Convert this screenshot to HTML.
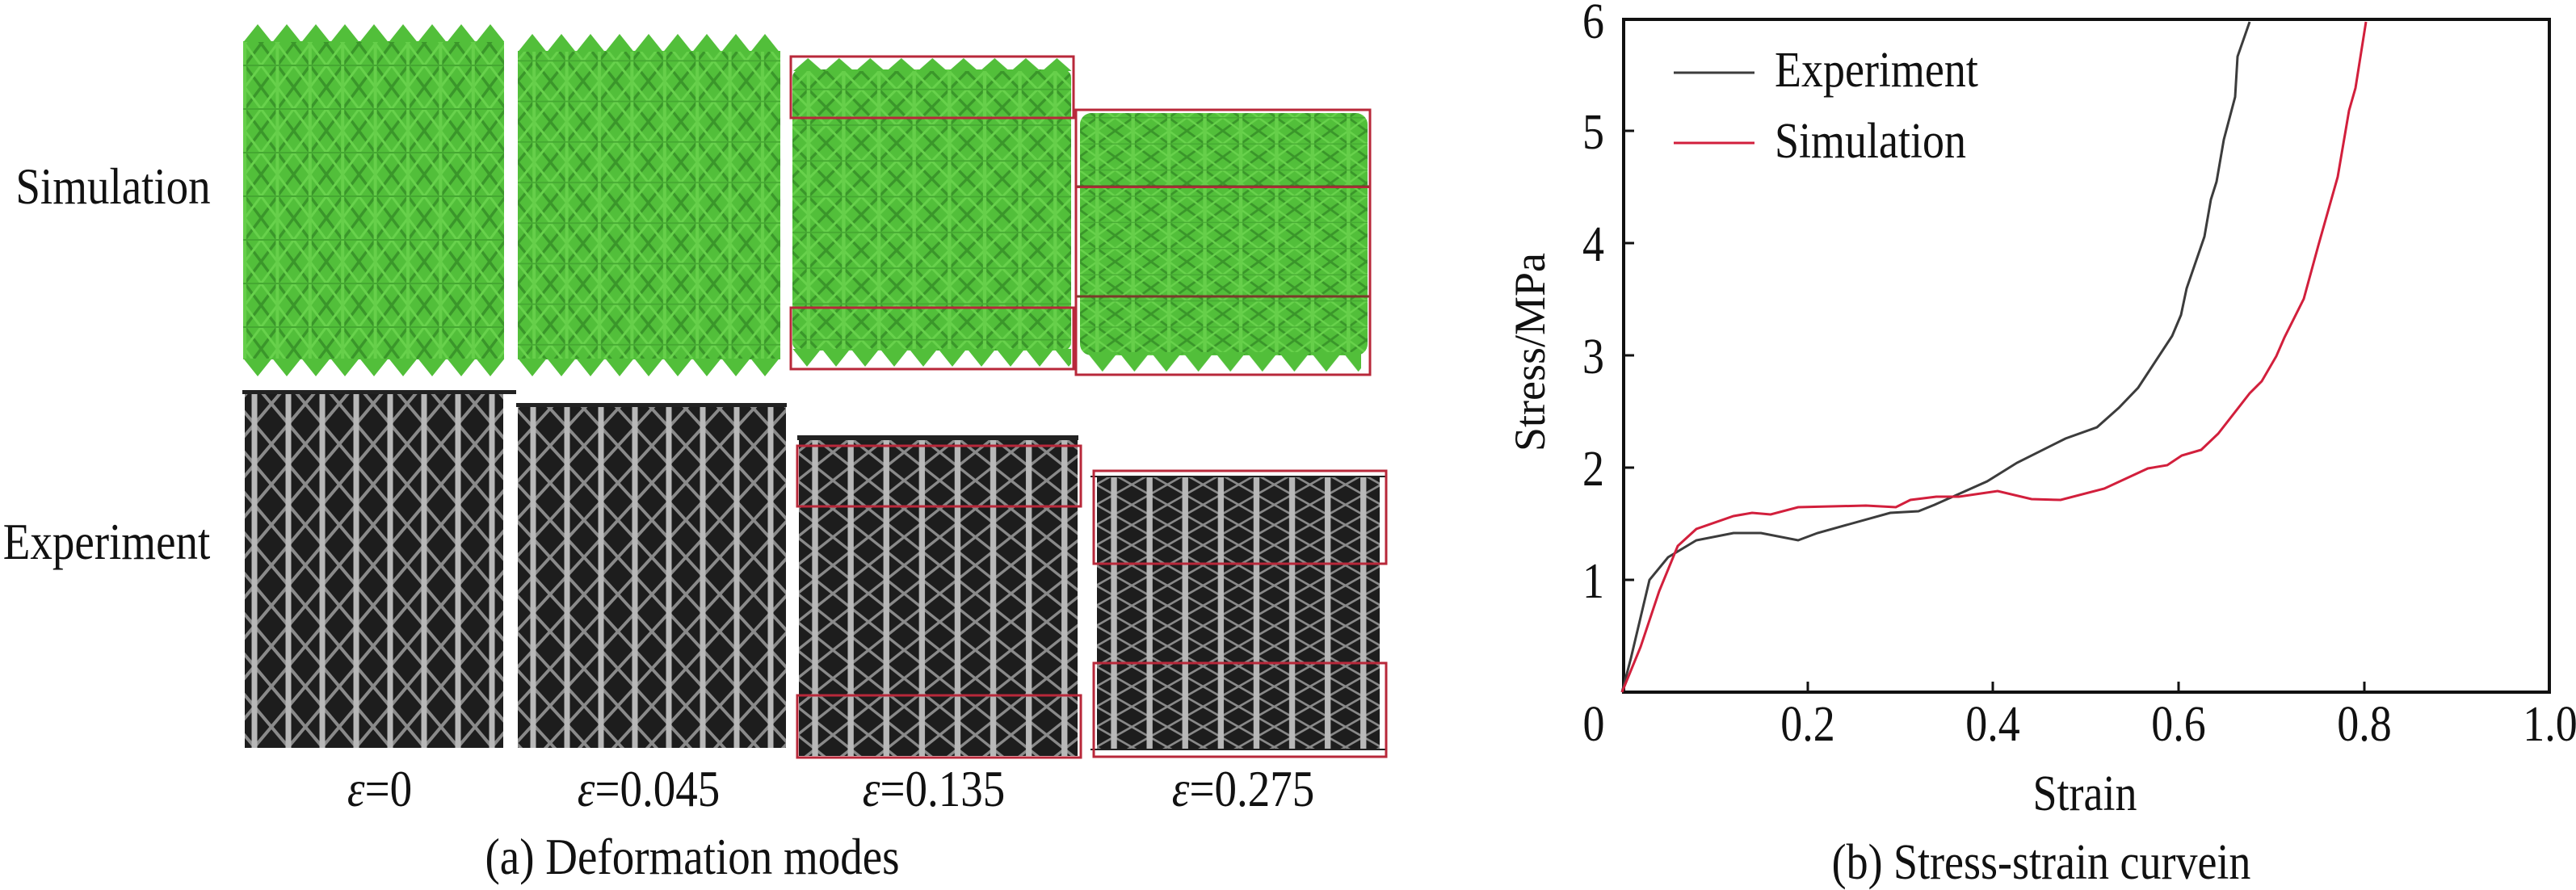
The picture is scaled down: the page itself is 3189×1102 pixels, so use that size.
<!DOCTYPE html>
<html><head><meta charset="utf-8"><style>
html,body{margin:0;padding:0;background:#fff;}
svg{display:block;}
text{font-family:"Liberation Serif",serif;fill:#111;}
</style></head><body>
<svg width="3189" height="1102" viewBox="0 0 3189 1102" xmlns="http://www.w3.org/2000/svg">
<defs>
<pattern id="g1" width="40.4" height="54" patternUnits="userSpaceOnUse">
<rect width="40.4" height="54" fill="#52bf3a"/>
<path d="M0 0L40.4 54M40.4 0L0 54" stroke="#3a962a" stroke-width="3.5"/>
<path d="M0 27L20.2 0L40.4 27L20.2 54Z" fill="none" stroke="#68d24c" stroke-width="3"/>
<line x1="20.2" y1="0" x2="20.2" y2="54" stroke="#66cf4a" stroke-width="4"/>
<line x1="0" y1="27" x2="40.4" y2="27" stroke="#45a832" stroke-width="2"/>
</pattern>
<pattern id="g2" href="#g1" patternTransform="translate(641,0) scale(1.0,0.93)"/>
<pattern id="g3" href="#g1" patternTransform="translate(979,0) scale(1.08,0.82)"/>
<pattern id="g4" href="#g1" patternTransform="translate(1336,0) scale(1.1,0.6)"/>
<pattern id="tu" width="36" height="22" patternUnits="userSpaceOnUse">
<polygon points="0,22.5 18,0 36,22.5" fill="#52bf3a"/>
</pattern>
<pattern id="td" width="36" height="22" patternUnits="userSpaceOnUse">
<polygon points="0,-0.5 18,22 36,-0.5" fill="#52bf3a"/>
</pattern>
<pattern id="tu1" href="#tu" patternTransform="translate(301,30)"/>
<pattern id="td1" href="#td" patternTransform="translate(301,444)"/>
<pattern id="tu2" href="#tu" patternTransform="translate(641,42)"/>
<pattern id="td2" href="#td" patternTransform="translate(641,444)"/>
<pattern id="tu3" href="#tu" patternTransform="translate(981,72) scale(1.07,0.75)"/>
<pattern id="td3" href="#td" patternTransform="translate(981,432)"/>
<pattern id="td4" href="#td" patternTransform="translate(1345,436) scale(1.1,1.1)"/>
<pattern id="e1" width="42" height="50" patternUnits="userSpaceOnUse">
<rect width="42" height="50" fill="#1d1d1d"/>
<path d="M0 0L42 50M42 0L0 50" stroke="#8a8a8a" stroke-width="4"/>
<line x1="21" y1="0" x2="21" y2="50" stroke="#b8b8b8" stroke-width="7"/>
</pattern>
<pattern id="e2" href="#e1" patternTransform="translate(639,0) scale(1,0.92)"/>
<pattern id="e3" href="#e1" patternTransform="translate(987,0) scale(1.05,0.7)"/>
<pattern id="e4" href="#e1" patternTransform="translate(1357,0) scale(1.05,0.5)"/>
</defs>

<g transform="translate(140,252) scale(1,1.15)"><text x="0" y="0" font-size="55" text-anchor="middle">Simulation</text></g>
<g transform="translate(132,692) scale(1,1.15)"><text x="0" y="0" font-size="55" text-anchor="middle">Experiment</text></g>

<rect x="301" y="51" width="323" height="394" fill="url(#g1)"/>
<rect x="301" y="30" width="323" height="22" fill="url(#tu1)"/>
<rect x="301" y="444" width="323" height="22" fill="url(#td1)"/>

<rect x="641" y="63" width="325" height="382" fill="url(#g2)"/>
<rect x="641" y="42" width="325" height="22" fill="url(#tu2)"/>
<rect x="641" y="444" width="325" height="22" fill="url(#td2)"/>

<rect x="981" y="86" width="345" height="348" rx="10" fill="url(#g3)"/>
<rect x="981" y="72" width="345" height="16" fill="url(#tu3)"/>
<rect x="981" y="432" width="345" height="22" fill="url(#td3)"/>
<rect x="979" y="70" width="350" height="76" fill="none" stroke="#b8283a" stroke-width="3"/>
<rect x="979" y="381" width="350" height="76" fill="none" stroke="#b8283a" stroke-width="3"/>

<rect x="1337" y="140" width="356" height="300" rx="14" fill="url(#g4)"/>
<rect x="1345" y="436" width="340" height="24" fill="url(#td4)"/>
<line x1="1332" y1="231" x2="1696" y2="231" stroke="#7a3a2a" stroke-width="3"/>
<line x1="1332" y1="367" x2="1696" y2="367" stroke="#7a3a2a" stroke-width="3"/>
<rect x="1332" y="136" width="364" height="328" fill="none" stroke="#b8283a" stroke-width="3"/>
<line x1="1332" y1="232" x2="1696" y2="232" stroke="#b8283a" stroke-width="2"/>

<rect x="303" y="487" width="320" height="439" fill="url(#e1)"/>
<rect x="300" y="483" width="339" height="5" fill="#222"/>
<rect x="641" y="503" width="332" height="423" fill="url(#e2)"/>
<rect x="639" y="499" width="335" height="5" fill="#222"/>
<rect x="989" y="543" width="345" height="393" fill="url(#e3)"/>
<rect x="987" y="539" width="348" height="6" fill="#222"/>
<rect x="987" y="552" width="351" height="75" fill="none" stroke="#b8283a" stroke-width="3"/>
<rect x="987" y="861" width="351" height="77" fill="none" stroke="#b8283a" stroke-width="3"/>
<rect x="1358" y="591" width="350" height="337" fill="url(#e4)"/>
<line x1="1350" y1="590" x2="1716" y2="590" stroke="#222" stroke-width="2"/>
<line x1="1350" y1="928" x2="1716" y2="928" stroke="#222" stroke-width="2"/>
<rect x="1354" y="583" width="362" height="115" fill="none" stroke="#b8283a" stroke-width="3"/>
<rect x="1354" y="821" width="362" height="116" fill="none" stroke="#b8283a" stroke-width="3"/>

<g transform="translate(470,998) scale(1,1.15)"><text font-size="55" text-anchor="middle"><tspan font-style="italic">ε</tspan>=0</text></g>
<g transform="translate(803,998) scale(1,1.15)"><text font-size="55" text-anchor="middle"><tspan font-style="italic">ε</tspan>=0.045</text></g>
<g transform="translate(1156,998) scale(1,1.15)"><text font-size="55" text-anchor="middle"><tspan font-style="italic">ε</tspan>=0.135</text></g>
<g transform="translate(1539,998) scale(1,1.15)"><text font-size="55" text-anchor="middle"><tspan font-style="italic">ε</tspan>=0.275</text></g>
<g transform="translate(857,1082) scale(1,1.15)"><text font-size="55" text-anchor="middle">(a) Deformation modes</text></g>

<rect x="2010" y="24" width="1146" height="833" fill="none" stroke="#111" stroke-width="4"/>
<g stroke="#111" stroke-width="3">
<line x1="2010" y1="718" x2="2023" y2="718"/>
<line x1="2010" y1="579" x2="2023" y2="579"/>
<line x1="2010" y1="440" x2="2023" y2="440"/>
<line x1="2010" y1="301" x2="2023" y2="301"/>
<line x1="2010" y1="162" x2="2023" y2="162"/>
<line x1="2238" y1="857" x2="2238" y2="844"/>
<line x1="2467" y1="857" x2="2467" y2="844"/>
<line x1="2697" y1="857" x2="2697" y2="844"/>
<line x1="2927" y1="857" x2="2927" y2="844"/>
</g>
<g font-size="54">
<g transform="translate(1986,740) scale(1,1.15)"><text text-anchor="end">1</text></g>
<g transform="translate(1986,601) scale(1,1.15)"><text text-anchor="end">2</text></g>
<g transform="translate(1986,462) scale(1,1.15)"><text text-anchor="end">3</text></g>
<g transform="translate(1986,323) scale(1,1.15)"><text text-anchor="end">4</text></g>
<g transform="translate(1986,184) scale(1,1.15)"><text text-anchor="end">5</text></g>
<g transform="translate(1986,47) scale(1,1.15)"><text text-anchor="end">6</text></g>
<g transform="translate(1973,917) scale(1,1.15)"><text text-anchor="middle">0</text></g>
<g transform="translate(2238,917) scale(1,1.15)"><text text-anchor="middle">0.2</text></g>
<g transform="translate(2467,917) scale(1,1.15)"><text text-anchor="middle">0.4</text></g>
<g transform="translate(2697,917) scale(1,1.15)"><text text-anchor="middle">0.6</text></g>
<g transform="translate(2927,917) scale(1,1.15)"><text text-anchor="middle">0.8</text></g>
<g transform="translate(3157,917) scale(1,1.15)"><text text-anchor="middle">1.0</text></g>
<g transform="translate(2581,1003) scale(1,1.15)"><text text-anchor="middle">Strain</text></g>
<g transform="translate(2527,1088) scale(1,1.15)"><text text-anchor="middle">(b) Stress-strain curvein</text></g>
<text transform="translate(1912,436) rotate(-90)" text-anchor="middle">Stress/MPa</text>
</g>

<line x1="2072" y1="90" x2="2172" y2="90" stroke="#3c3c3c" stroke-width="3"/>
<line x1="2072" y1="177" x2="2172" y2="177" stroke="#d21f3c" stroke-width="3"/>
<g transform="translate(2197,107) scale(1,1.15)"><text font-size="54">Experiment</text></g>
<g transform="translate(2197,195) scale(1,1.15)"><text font-size="54">Simulation</text></g>

<polyline fill="none" stroke="#3c3c3c" stroke-width="3" points="2008,857 2019,815 2042,718 2065,690 2100,669 2146,660 2180,660 2226,669 2250,660 2340,635 2375,633 2395,625 2460,596 2497,573 2557,543 2596,529 2623,505 2647,480 2689,416 2700,390 2707,357 2729,293 2737,247 2744,225 2753,173 2767,120 2770,70 2785,27"/>
<polyline fill="none" stroke="#d21f3c" stroke-width="3" points="2008,857 2031,801 2054,732 2077,676 2100,655 2146,639 2169,635 2192,637 2226,628 2310,626 2347,628 2365,619 2397,615 2425,615 2473,608 2515,618 2551,619 2605,605 2659,580 2683,576 2701,564 2725,557 2746,537 2785,487 2800,472 2818,441 2828,418 2852,370 2870,304 2894,219 2908,137 2916,109 2929,27"/>
</svg>
</body></html>
